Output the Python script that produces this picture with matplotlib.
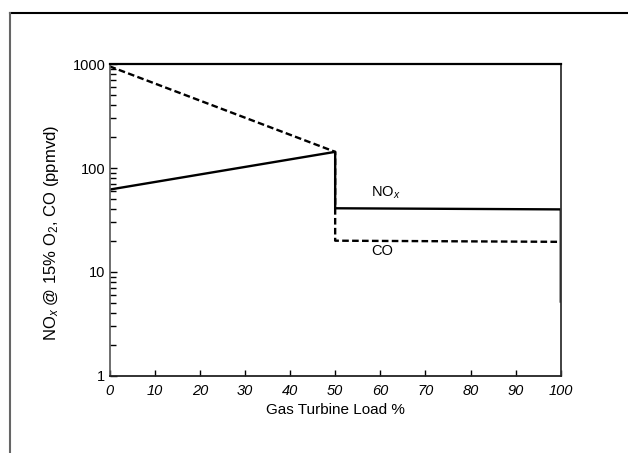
import matplotlib
matplotlib.use("Agg")
import matplotlib.pyplot as plt
from matplotlib.lines import Line2D
from matplotlib.ticker import LogLocator, NullFormatter, FixedLocator

plt.rcParams['font.family'] = ['Liberation Sans', 'DejaVu Sans']
plt.rcParams['mathtext.fontset'] = 'custom'
plt.rcParams['mathtext.rm'] = 'Liberation Sans'
plt.rcParams['mathtext.it'] = 'Liberation Sans:italic'

# Emission curves versus gas turbine load (%)
nox_load = [0, 50, 50, 100, 100]
nox_ppm = [62, 143, 41, 40, 5.2]
co_load = [0, 50, 50, 100]
co_ppm = [950, 143, 20, 19.5]

x_ticks = [0, 10, 20, 30, 40, 50, 60, 70, 80, 90, 100]
y_ticks = [1, 10, 100, 1000]
y_tick_labels = ["1", "10", "100", "1000"]

fig = plt.figure(figsize=(6.28, 4.53), dpi=100)
ax = fig.add_axes([0.1744, 0.170, 0.7186, 0.6887])

ax.plot(co_load, co_ppm, color='black', lw=1.7, ls=(0, (2.8, 1.4)), solid_capstyle='butt')
ax.plot(nox_load, nox_ppm, color='black', lw=1.7)

ax.set_yscale('log')
ax.set_xlim(0, 100)
ax.set_ylim(1, 1000)

ax.yaxis.set_major_locator(FixedLocator(y_ticks))
ax.set_yticklabels(y_tick_labels)
ax.yaxis.set_minor_locator(LogLocator(base=10, subs=range(2, 10)))
ax.yaxis.set_minor_formatter(NullFormatter())
ax.set_xticks(x_ticks)
ax.set_xticklabels([str(v) for v in x_ticks], fontstyle='italic')

ax.tick_params(axis='y', which='major', direction='in', length=5, width=1.0, labelsize=10.5, pad=3)
ax.tick_params(axis='y', which='minor', direction='in', length=4, width=1.0)
ax.tick_params(axis='x', which='major', direction='in', length=4, width=1.0, labelsize=10.5, pad=6)

for side, col, w in [('left', '#555555', 1.2), ('bottom', '#222222', 1.3),
                     ('top', 'black', 1.6), ('right', '#333333', 1.3)]:
    ax.spines[side].set_color(col)
    ax.spines[side].set_linewidth(w)

ax.set_xlabel('Gas Turbine Load %', fontsize=11)
ax.xaxis.set_label_coords(0.5, -0.088)
ax.set_ylabel('NO$_x$ @ 15% O$_2$, CO (ppmvd)', fontsize=12)
ax.yaxis.set_label_coords(-0.108, 0.46)

ax.text(61.3, 58, 'NO$_x$', fontsize=10.5, ha='center', va='center')
ax.text(60.4, 16, 'CO', fontsize=10.5, ha='center', va='center')

# Page frame
fig.add_artist(Line2D([10 / 628, 1.0], [1 - 13 / 453, 1 - 13 / 453],
                      transform=fig.transFigure, color='black', lw=1.5))
fig.add_artist(Line2D([10 / 628, 10 / 628], [0.0, 1 - 13 / 453],
                      transform=fig.transFigure, color='#666666', lw=1.5))

fig.savefig('out.png', dpi=100)
